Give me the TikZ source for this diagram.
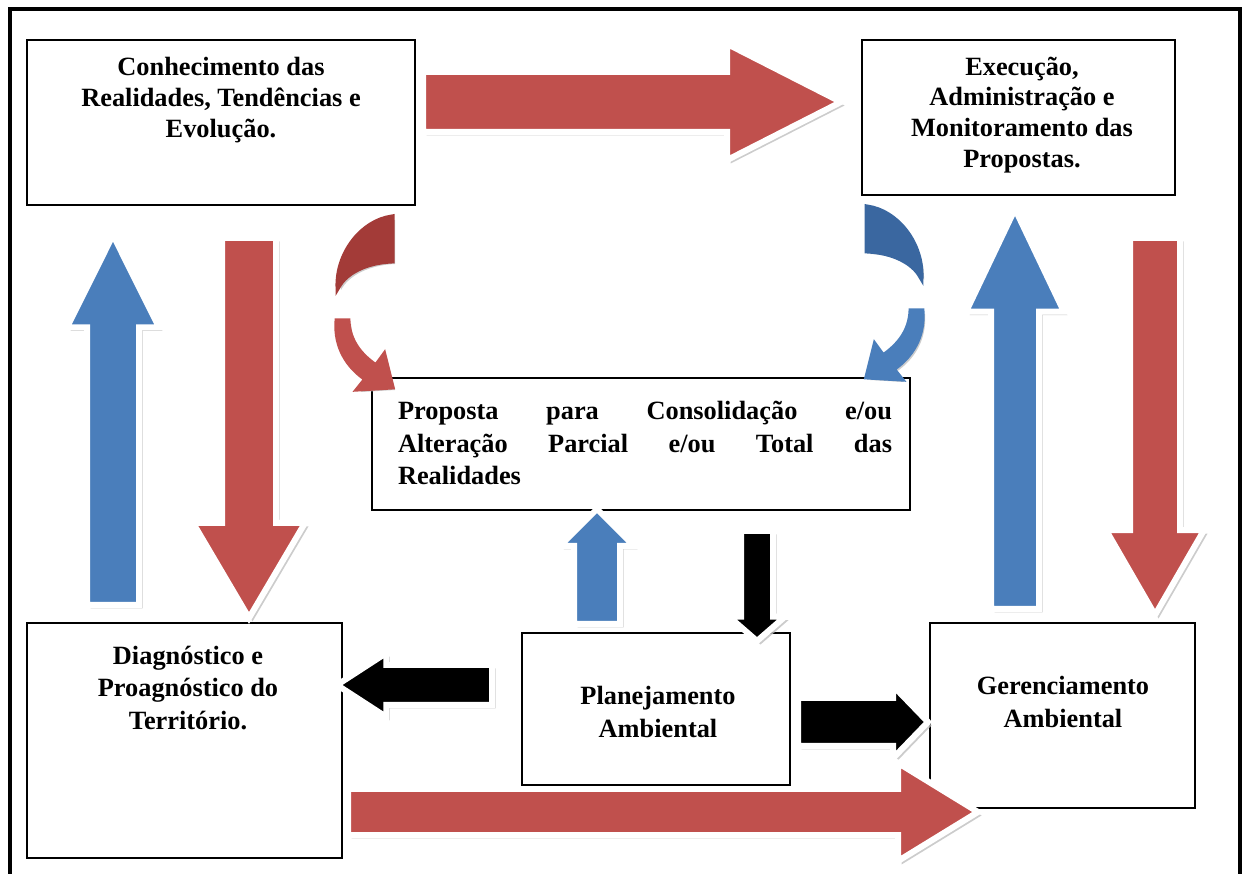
\documentclass[tikz,border=0pt]{standalone}
\usepackage{fontspec}
\setmainfont{Liberation Serif}
\usetikzlibrary{shapes.arrows,shadows}

\definecolor{arrred}{HTML}{C0504D}
\definecolor{arrreddark}{HTML}{A33B38}
\definecolor{arrblue}{HTML}{4A7EBB}
\definecolor{arrbluedark}{HTML}{3A67A0}

\newcommand{\pixel}{0.02cm}

\tikzset{
  box/.style={draw, line width=1.3pt, fill=white, inner sep=0pt},
  boxtext/.style={font=\bfseries\fontsize{15}{18.5}\selectfont, align=center, inner sep=0pt},
  blockarrow/.style={single arrow, draw=white, line width=0.12cm, inner xsep=0pt,
    minimum width=0pt, anchor=tail,
    drop shadow={shadow xshift=0.07cm, shadow yshift=-0.07cm, fill=gray!50, opacity=.8}},
  arrowsize/.style n args={4}{minimum height=#1*\pixel, inner ysep=#2*\pixel,
    single arrow head extend=#3*\pixel, single arrow tip angle=#4},
  bentpart/.style={draw=white, line width=0.1cm,
    drop shadow={shadow xshift=0.06cm, shadow yshift=-0.06cm, fill=gray!50, opacity=.8}},
  pics/bentarrow/.style 2 args={code={
    % back part
    \fill[bentpart, #1] (0,0) -- (0,44) .. controls (-25,45) and (-46,55) .. (-54,70)
      .. controls (-55,36) and (-30,4) .. (0,0) -- cycle;
    % front part with head
    \fill[bentpart, #2] (-55,104) .. controls (-57,130) and (-44,150) .. (-26,162)
      -- (-34,172) -- (0,170) -- (-8,138) -- (-16,149)
      .. controls (-32,138) and (-43,124) .. (-44,104) -- cycle;
  }}
}

\begin{document}
\begin{tikzpicture}[x=0.02cm, y=-0.02cm]
\useasboundingbox (0,0) rectangle (1245,874);

% outer frame
\draw[line width=0.08cm] (10,874) -- (10,9) -- (1240,9) -- (1240,874);

% boxes
\node[box, minimum width=388*\pixel, minimum height=165*\pixel] (conh) at (221,122.5) {};
\node[box, minimum width=313*\pixel, minimum height=155*\pixel] (exec) at (1018.5,117.5) {};
\node[box, minimum width=538*\pixel, minimum height=132*\pixel] (prop) at (641,444) {};
\node[box, minimum width=315*\pixel, minimum height=235*\pixel] (diag) at (184.5,740.5) {};
\node[box, minimum width=268*\pixel, minimum height=152*\pixel] (plan) at (656,709) {};
\node[box, minimum width=265*\pixel, minimum height=185*\pixel] (ger) at (1062.5,715.5) {};

% texts
\node[boxtext, font=\bfseries\fontsize{15}{17.5}\selectfont] (conhtxt) at (221,100)
  {Conhecimento das\\Realidades, Tendências e\\Evolução.};
\node[boxtext, font=\bfseries\fontsize{15}{17.5}\selectfont] (exectxt) at (1022,115)
  {Execução,\\Administração e\\Monitoramento das\\Propostas.};
\node[boxtext, align=justify, text width=494*\pixel] (proptxt) at (645,443)
  {Proposta para Consolidação e/ou\linebreak Alteração Parcial e/ou Total das\linebreak Realidades};
\node[boxtext] (diagtxt) at (188,688) {Diagnóstico e\\Proagnóstico do\\Território.};
\node[boxtext] (plantxt) at (658,712) {Planejamento\\Ambiental};
\node[boxtext] (gertxt) at (1063,702) {Gerenciamento\\Ambiental};

% block arrows
\node[blockarrow, fill=arrred, arrowsize={418}{27}{28}{54}] (ar1) at (420,102) {};
\node[blockarrow, fill=arrblue, rotate=90, arrowsize={370}{23}{20}{53}] (ar2) at (113,608) {};
\node[blockarrow, fill=arrred, rotate=-90, arrowsize={380}{24}{29}{61}] (ar3) at (249,235) {};
\node[blockarrow, fill=arrblue, rotate=90, arrowsize={400}{21}{25}{51}] (ar4) at (1015,612) {};
\node[blockarrow, fill=arrred, rotate=-90, arrowsize={377}{22}{24}{60}] (ar5) at (1155,235) {};
\node[blockarrow, fill=arrblue, rotate=90, arrowsize={115}{20}{14}{90}] (ar6) at (597,627) {};
\node[blockarrow, fill=black, rotate=-90, arrowsize={110}{13}{12}{98}] (ar7) at (757,528) {};
\node[blockarrow, fill=black, rotate=180, arrowsize={155}{17}{12}{66}] (ar8) at (495,685) {};
\node[blockarrow, fill=black, arrowsize={130}{21}{12}{92}] (ar9) at (795,722) {};
\node[blockarrow, fill=arrred, arrowsize={630}{20}{26}{63}] (ar10) at (345,812) {};

% curved arrows
\pic at (392,217) {bentarrow={arrreddark}{arrred}};
\pic[xscale=-1] at (867,207) {bentarrow={arrbluedark}{arrblue}};
\end{tikzpicture}
\end{document}
